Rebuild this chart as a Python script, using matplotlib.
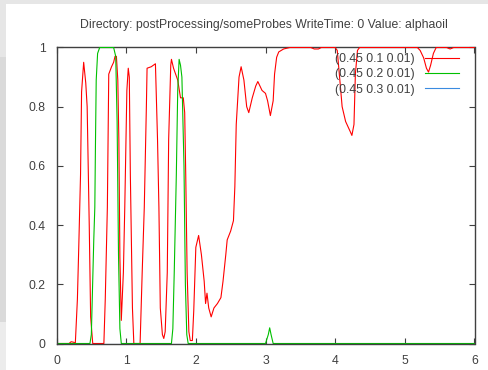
import matplotlib
matplotlib.use("Agg")
import matplotlib.pyplot as plt
from matplotlib.patches import Rectangle

# probe samples (distance along probe line vs alphaoil)
red_x = [0.0, 0.18, 0.21, 0.25, 0.27, 0.30, 0.32, 0.345, 0.36, 0.39, 0.42, 0.44, 0.47, 0.49, 0.52,
         0.68, 0.70, 0.73, 0.75, 0.79, 0.82, 0.84, 0.86, 0.88, 0.895, 0.91, 0.93, 0.96, 0.98, 1.01,
         1.03, 1.045, 1.06, 1.09, 1.11, 1.20, 1.23, 1.26, 1.29, 1.30, 1.36, 1.42, 1.45, 1.47, 1.49,
         1.52, 1.54, 1.56, 1.59, 1.61, 1.64, 1.65, 1.68, 1.74, 1.78, 1.82, 1.84, 1.855, 1.875, 1.90,
         1.92, 1.95, 1.97, 2.00, 2.04, 2.08, 2.12, 2.14, 2.16, 2.185, 2.22, 2.26, 2.31, 2.36, 2.39,
         2.43, 2.45, 2.50, 2.54, 2.56, 2.58, 2.60, 2.62, 2.65, 2.69, 2.73, 2.76, 2.81, 2.86, 2.89,
         2.95, 3.00, 3.03, 3.07, 3.11, 3.13, 3.16, 3.19, 3.26, 3.35, 3.65, 3.70, 3.76, 3.80, 4.00,
         4.03, 4.08, 4.10, 4.15, 4.22, 4.24, 4.27, 4.29, 4.32, 4.35, 5.18, 5.22, 5.27, 5.31, 5.34,
         5.37, 5.41, 5.45, 5.60, 5.65, 5.70, 6.0]
red_y = [0.0, 0.0, 0.006, 0.004, 0.0, 0.15, 0.33, 0.57, 0.85, 0.95, 0.88, 0.80, 0.40, 0.09, 0.0,
         0.0, 0.15, 0.46, 0.91, 0.935, 0.95, 0.97, 0.97, 0.89, 0.69, 0.29, 0.078, 0.24, 0.46, 0.855,
         0.93, 0.90, 0.57, 0.12, 0.0, 0.0, 0.24, 0.46, 0.80, 0.93, 0.935, 0.945, 0.69, 0.46, 0.12,
         0.03, 0.017, 0.04, 0.24, 0.69, 0.94, 0.96, 0.93, 0.89, 0.83, 0.83, 0.78, 0.57, 0.24, 0.04,
         0.01, 0.01, 0.11, 0.325, 0.365, 0.30, 0.21, 0.135, 0.17, 0.12, 0.09, 0.12, 0.135, 0.155, 0.21,
         0.30, 0.35, 0.38, 0.415, 0.53, 0.74, 0.82, 0.90, 0.935, 0.89, 0.80, 0.78, 0.83, 0.87, 0.885,
         0.855, 0.845, 0.82, 0.77, 0.82, 0.91, 0.967, 0.985, 0.995, 1.0, 1.0, 0.995, 0.995, 1.0, 1.0,
         0.99, 0.855, 0.80, 0.75, 0.714, 0.703, 0.74, 0.91, 0.99, 1.0, 1.0, 0.99, 0.965, 0.93, 0.917,
         0.94, 0.98, 1.0, 1.0, 0.995, 1.0, 1.0]

green_x = [0.0, 0.48, 0.50, 0.535, 0.55, 0.56, 0.57, 0.59, 0.62, 0.82, 0.85, 0.87, 0.89, 0.91, 0.93,
           1.65, 1.67, 1.69, 1.72, 1.74, 1.76, 1.78, 1.80, 1.83, 1.85, 1.87, 1.89,
           3.00, 3.04, 3.06, 3.08, 3.11, 6.0]
green_y = [0.0, 0.0, 0.03, 0.35, 0.46, 0.69, 0.89, 0.98, 1.0, 1.0, 0.97, 0.75, 0.30, 0.05, 0.0,
           0.0, 0.05, 0.24, 0.57, 0.855, 0.96, 0.94, 0.90, 0.60, 0.20, 0.03, 0.0,
           0.0, 0.03, 0.053, 0.03, 0.0, 0.0]

blue_x = [0.0, 6.0]
blue_y = [0.0, 0.0]

labels = ["(0.45 0.1 0.01)", "(0.45 0.2 0.01)", "(0.45 0.3 0.01)"]
title = "Directory: postProcessing/someProbes WriteTime: 0 Value: alphaoil"

W, H = 488, 370
font = ["Liberation Sans", "DejaVu Sans"]
txt = "#404040"
fs = 8.8

fig = plt.figure(figsize=(W / 100, H / 100), dpi=100)
fig.patch.set_facecolor("#e6e6e6")
# white canvas plus the darker strip along the left edge
for rect, col in [((6 / W, 0, 1 - 6 / W, 1 - 4 / H), "white"),
                  ((0, 48 / H, 6 / W, (322 - 57) / H), "#dadada"),
                  ((0, 0, 6 / W, 48 / H), "#ececec")]:
    x0, y0, w, h = rect
    fig.patches.append(Rectangle((x0, y0), w, h, transform=fig.transFigure,
                                 facecolor=col, edgecolor="none", zorder=-10))

# border centred on pixel rows/columns so the zero lines sit under it
ax = fig.add_axes([56.5 / W, 26.5 / H, 418 / W, 296 / H])
ax.set_facecolor("none")

lw = 0.8
ax.plot(red_x, red_y, color="#ff0000", lw=lw, label=labels[0], zorder=2)
ax.plot(green_x, green_y, color="#00c000", lw=lw, label=labels[1], zorder=2)
ax.plot(blue_x, blue_y, color="#3a8be0", lw=lw, label=labels[2], zorder=1)

ax.set_xlim(0, 6)
ax.set_ylim(0, 1)
ax.set_xticks([0, 1, 2, 3, 4, 5, 6])
ax.set_yticks([0, 0.2, 0.4, 0.6, 0.8, 1])
ax.set_yticklabels(["0", "0.2", "0.4", "0.6", "0.8", "1"])
ax.tick_params(direction="in", length=4, width=0.8, color=txt, top=True, right=True,
               labelsize=fs, labelcolor=txt, pad=8)
for lab in ax.get_xticklabels() + ax.get_yticklabels():
    lab.set_family(font)
for sp in ax.spines.values():
    sp.set_color(txt)
    sp.set_linewidth(1.0)
# the curves at 1 run over the top border
ax.spines["top"].set_zorder(1.5)

fig.text(263.5 / W, 1 - 25 / H, title, ha="center", va="center", fontsize=fs,
         color=txt, family=font)

leg = ax.legend(loc="upper right", bbox_to_anchor=(459 / W, 1 - 53 / H),
                bbox_transform=fig.transFigure, frameon=False, markerfirst=False,
                borderpad=0, borderaxespad=0, handlelength=34 / 12.2, handletextpad=10 / 12.2,
                labelspacing=0.27, prop={"family": font, "size": fs})
for t in leg.get_texts():
    t.set_color(txt)

fig.savefig("out.png", dpi=100, facecolor=fig.get_facecolor())
